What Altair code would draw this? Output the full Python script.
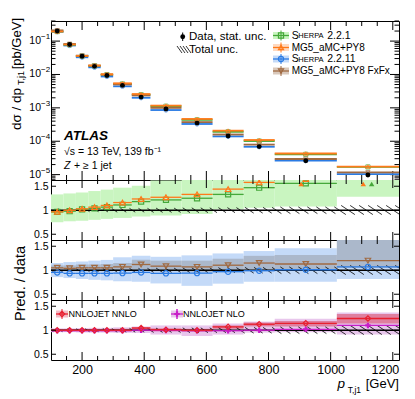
import math
import altair as alt
import pandas as pd

# ---------------- measured values ----------------
edges = [100, 140, 180, 220, 260, 300, 360, 420, 520, 620, 720, 820, 1020, 1220]
data_xsec = [0.20, 0.079, 0.035, 0.0175, 0.0093, 0.0047, 0.0021, 0.00092,
             0.00035, 1.44e-4, 6.9e-5, 2.6e-5, 9.7e-6]
tot_lo = [0.97, 0.97, 0.97, 0.97, 0.965, 0.96, 0.96, 0.955, 0.95, 0.95, 0.94, 0.93, 0.91]
tot_hi = [1.03, 1.03, 1.03, 1.03, 1.035, 1.04, 1.04, 1.045, 1.05, 1.055, 1.06, 1.07, 1.10]

sh221 = [0.965, 0.98, 1.02, 1.04, 1.065, 1.11, 1.18, 1.215, 1.25, 1.33, 1.47, 1.56, 1.75]
sh221_lo = [0.75, 0.77, 0.78, 0.80, 0.82, 0.84, 0.87, 0.89, 0.92, 1.02, 1.05, 1.08, 1.28]
sh221_hi = [1.33, 1.35, 1.37, 1.40, 1.43, 1.47, 1.51, 1.62, 1.65, 1.80, 1.90, 2.00, 2.20]
mg5 = [0.967, 1.0, 1.03, 1.065, 1.10, 1.16, 1.235, 1.27, 1.33, 1.44, 1.58, 1.65, 1.80]

sh2211 = [0.955, 0.935, 0.935, 0.935, 0.935, 0.94, 0.955, 0.935, 0.94, 0.97, 0.99, 1.01, 1.07]
sh2211_lo = [0.857, 0.837, 0.82, 0.80, 0.79, 0.77, 0.76, 0.725, 0.675, 0.72, 0.76, 0.76, 0.82]
sh2211_hi = [1.15, 1.17, 1.18, 1.20, 1.215, 1.27, 1.30, 1.28, 1.31, 1.35, 1.40, 1.46, 1.70]
fxfx = [1.05, 1.04, 1.05, 1.05, 1.05, 1.07, 1.12, 1.085, 1.07, 1.105, 1.15, 1.13, 1.20]
fxfx_lo = [0.98, 0.98, 0.98, 0.98, 0.98, 0.99, 1.0, 0.98, 0.97, 0.98, 1.0, 1.0, 1.05]
fxfx_hi = [1.10, 1.10, 1.12, 1.12, 1.13, 1.15, 1.22, 1.20, 1.20, 1.24, 1.30, 1.32, 1.70]

nnlo = [1.0, 1.0, 1.0, 1.0, 1.0, 1.0, 1.045, 1.01, 1.0, 1.07, 1.125, 1.145, 1.245]
nnlo_lo = [0.98, 0.98, 0.98, 0.98, 0.98, 0.98, 1.01, 0.98, 0.97, 1.03, 1.08, 1.08, 1.14]
nnlo_hi = [1.02, 1.02, 1.02, 1.025, 1.025, 1.03, 1.07, 1.04, 1.03, 1.10, 1.16, 1.19, 1.34]
nlo = [0.99, 0.99, 0.99, 0.99, 0.99, 0.99, 1.0, 0.995, 0.99, 0.99, 1.0, 1.02, 1.10]
nlo_lo = [0.96, 0.96, 0.955, 0.95, 0.95, 0.945, 0.94, 0.91, 0.88, 0.91, 0.95, 0.96, 0.91]
nlo_hi = [1.04, 1.04, 1.045, 1.05, 1.05, 1.06, 1.08, 1.10, 1.10, 1.14, 1.18, 1.24, 1.37]

x_major = [200, 400, 600, 800, 1000, 1200]
x_minor = [150, 250, 300, 350, 450, 500, 550, 650, 700, 750, 850, 900, 950,
           1050, 1100, 1150]
y_main_major = [1e-5, 1e-4, 1e-3, 1e-2, 1e-1]
y_main_exp = ["−5", "−4", "−3", "−2", "−1"]
r_major = [0.5, 1.0, 1.5]

# ---------------- style ----------------
FONT = "Liberation Sans"
W, HM, HR = 348, 159, 60
X_DOM = [100, 1220]
R_DOM = [0.38, 1.63]
GREEN, GREEN_B = "#45a83a", "#c9f5c0"
ORANGE, ORANGE_B = "#ff7a1a", "#ffd9bf"
BLUE, BLUE_B = "#2a7be4", "#c4daf8"
BROWN, GRAY_B = "#a06a42", "#8f8f95"
RED, RED_B = "#e8202f", "#d9506c"
MAG, MAG_B = "#c81ec8", "#e8c6ec"

xsc = alt.Scale(domain=X_DOM, nice=False, zero=False)
rsc = alt.Scale(domain=R_DOM, nice=False, zero=False)
msc = alt.Scale(type="log", domain=[6.9e-6, 0.4], nice=False)

bins = pd.DataFrame({"lo": edges[:-1], "hi": edges[1:]})
bins["c"] = (bins["lo"] + bins["hi"]) / 2


def T(txt, x, y, size, align="left", baseline="middle", angle=0, style="normal",
      weight="normal", color="black"):
    return alt.Chart(pd.DataFrame({"t": [txt]})).mark_text(
        align=align, baseline=baseline, angle=angle, font=FONT, fontSize=size,
        fontStyle=style, fontWeight=weight, color=color
    ).encode(text="t:N", x=alt.value(x), y=alt.value(y))


def R(x1, x2, y1, y2, color="black", width=1.0):
    return alt.Chart(pd.DataFrame({"a": [0]})).mark_rule(color=color, strokeWidth=width).encode(
        x=alt.value(x1), x2=alt.value(x2), y=alt.value(y1), y2=alt.value(y2))


def BOX(x1, x2, y1, y2, color, opacity=1.0):
    return alt.Chart(pd.DataFrame({"a": [0]})).mark_rect(color=color, opacity=opacity).encode(
        x=alt.value(x1), x2=alt.value(x2), y=alt.value(y1), y2=alt.value(y2))


def PT(x, y, shape, color, filled=False, size=30):
    return alt.Chart(pd.DataFrame({"a": [0]})).mark_point(
        shape=shape, color=color, filled=filled, size=size, strokeWidth=1.2, opacity=1
    ).encode(x=alt.value(x), y=alt.value(y))


def ticks(ysc, H, ymaj, ymin, lxM, lxm, lyM, lym, xax=None, yax=None):
    out = []
    for vals, L in ((x_major, lxM), (x_minor, lxm)):
        d = pd.DataFrame({"v": vals})
        for y1, y2 in ((0, L), (H, H - L)):
            out.append(alt.Chart(d).mark_rule(color="black", strokeWidth=1).encode(
                x=alt.X("v:Q", scale=xsc, axis=xax), y=alt.value(y1), y2=alt.value(y2)))
    for vals, L in ((ymaj, lyM), (ymin, lym)):
        if not vals:
            continue
        d = pd.DataFrame({"v": vals})
        for x1, x2 in ((0, L), (W, W - L)):
            out.append(alt.Chart(d).mark_rule(color="black", strokeWidth=1).encode(
                y=alt.Y("v:Q", scale=ysc, axis=yax), x=alt.value(x1), x2=alt.value(x2)))
    return out


def hatch_df(lo_list, hi_list, H=HR, spacing=9.0, k=1.5):
    xpx = W / (X_DOM[1] - X_DOM[0])
    ypx = H / (R_DOM[1] - R_DOM[0])
    rows = []
    for i in range(len(lo_list)):
        ua = (edges[i] - X_DOM[0]) * xpx
        ub = (edges[i + 1] - X_DOM[0]) * xpx
        wl = (lo_list[i] - R_DOM[0]) * ypx
        wh = (hi_list[i] - R_DOM[0]) * ypx
        n0 = math.ceil((ua + k * wl) / spacing)
        n1 = math.floor((ub + k * wh) / spacing)
        for n in range(n0, n1 + 1):
            c = n * spacing
            u1, w1 = c - k * wh, wh
            if u1 < ua:
                u1, w1 = ua, (c - ua) / k
            u2, w2 = c - k * wl, wl
            if u2 > ub:
                u2, w2 = ub, (c - ub) / k
            if u2 - u1 < 0.6:
                continue
            rows.append({"x": X_DOM[0] + u1 / xpx, "y": R_DOM[0] + w1 / ypx,
                         "x2": X_DOM[0] + u2 / xpx, "y2": R_DOM[0] + w2 / ypx})
    return pd.DataFrame(rows)


HATCH = hatch_df(tot_lo, tot_hi)

# ---------------- main panel ----------------
main_layers = []
main_layers += ticks(msc, HM, y_main_major,
                     [m * 10.0 ** e for e in range(-6, 0) for m in range(2, 10)
                      if 6.9e-6 <= m * 10.0 ** e <= 0.4],
                     9, 5, 9, 4.5)

main_series = [
    (sh2211, BLUE, "circle"),
    (sh221, GREEN, "square"),
    (fxfx, BROWN, "triangle-down"),
    (mg5, ORANGE, "triangle-up"),
]
for ratio, col, shp in main_series:
    d = bins.copy()
    d["v"] = [a * b for a, b in zip(data_xsec, ratio)]
    main_layers.append(alt.Chart(d).mark_rule(color=col, strokeWidth=1.8).encode(
        x=alt.X("lo:Q", scale=xsc, axis=None), x2="hi:Q",
        y=alt.Y("v:Q", scale=msc, axis=None)))
    main_layers.append(alt.Chart(d).mark_point(shape=shp, color=col, filled=False,
                                               size=18, strokeWidth=1).encode(
        x=alt.X("c:Q", scale=xsc, axis=None), y=alt.Y("v:Q", scale=msc, axis=None)))

dd = bins.copy()
dd["v"] = data_xsec
main_layers.append(alt.Chart(dd).mark_point(shape="circle", color="black", filled=True,
                                            size=24, opacity=1).encode(
    x=alt.X("c:Q", scale=xsc, axis=None), y=alt.Y("v:Q", scale=msc, axis=None)))

# y tick labels 10^n
dlab = pd.DataFrame({"v": y_main_major, "e": y_main_exp, "b": ["10"] * 5})
main_layers.append(alt.Chart(dlab).mark_text(align="right", baseline="middle", font=FONT,
                                             fontSize=10.5, dy=0).encode(
    y=alt.Y("v:Q", scale=msc, axis=None), x=alt.value(-10), text="b:N"))
main_layers.append(alt.Chart(dlab).mark_text(align="left", baseline="middle", font=FONT,
                                             fontSize=8, dy=-4).encode(
    y=alt.Y("v:Q", scale=msc, axis=None), x=alt.value(-10), text="e:N"))

# y title
main_layers += [
    T("[pb/GeV]", -34, -3, 13, align="right", angle=270),
    T("T,j1", -30, 50, 9, align="right", angle=270),
    T("dσ / dp", -34, 67, 13.5, align="right", angle=270),
]

# ATLAS label
main_layers += [
    T("ATLAS", 13, 115, 13.5, style="italic", weight="bold"),
    T("√s = 13 TeV, 139 fb⁻¹", 13, 130.5, 10.5),
    T("Z", 13, 145, 10.5, style="italic"),
    T("+ ≥ 1 jet", 23, 145, 10.5),
]

# left legend
main_layers += [
    R(131.7, 131.7, 11.5, 20),
    PT(131.7, 15.7, "circle", "black", filled=True, size=24),
    T("Data, stat. unc.", 138, 15.7, 11.5),
]
for i in range(4):
    main_layers.append(R(126 + 3 * i, 131 + 3 * i, 25, 32, width=0.8))
main_layers.append(T("Total unc.", 138, 28.5, 11.5))

# right legend
leg = [
    (14.5, GREEN, GREEN_B, "square", [("S", 10.5, 0), ("HERPA", 7.5, 6.6), ("2.2.1", 10.5, 35.5)]),
    (26.5, ORANGE, ORANGE_B, "triangle-up", [("MG5_aMC+PY8", 10, 0)]),
    (38.0, BLUE, BLUE_B, "circle", [("S", 10.5, 0), ("HERPA", 7.5, 6.6), ("2.2.11", 10.5, 35.5)]),
    (50.0, BROWN, "#d9c8bb", "triangle-down", [("MG5_aMC+PY8 FxFx", 10, 0)]),
]
for y, col, bcol, shp, parts in leg:
    main_layers += [BOX(222, 238, y - 3.5, y + 3.5, bcol),
                    R(222, 238, y, y, color=col, width=1.3),
                    R(230, 230, y - 5, y + 5, color=col, width=1),
                    PT(230, y, shp, col, size=26)]
    for txt, fs, dx in parts:
        main_layers.append(T(txt, 240.7 + dx, y + (0.8 if fs < 9 else 0), fs))

main = alt.layer(*main_layers).properties(width=W, height=HM)


# ---------------- ratio panels ----------------
def ratio_panel(bands, series, extra, bottom=False):
    layers = []
    yax = alt.Axis(values=r_major, format=".1~f", ticks=False, tickSize=0, domain=False,
                   grid=False, labelFontSize=10.5, labelPadding=3, title=None, labelFont=FONT)
    xax = None
    if bottom:
        xax = alt.Axis(values=x_major, format="d", ticks=False, tickSize=0, domain=False,
                       grid=False, labelFontSize=12.5, labelPadding=3, title=None,
                       labelFont=FONT, labelFlush=8, labelFlushOffset=6)
    for lo, hi, col, op in bands:
        d = bins.copy()
        d["blo"] = lo
        d["bhi"] = hi
        layers.append(alt.Chart(d).mark_rect(color=col, opacity=op, clip=True).encode(
            x=alt.X("lo:Q", scale=xsc, axis=xax), x2="hi:Q",
            y=alt.Y("blo:Q", scale=rsc, axis=yax), y2="bhi:Q"))
    layers.append(alt.Chart(HATCH).mark_rule(color="black", strokeWidth=0.8).encode(
        x=alt.X("x:Q", scale=xsc, axis=xax), x2="x2:Q",
        y=alt.Y("y:Q", scale=rsc, axis=yax), y2="y2:Q"))
    layers.append(alt.Chart(pd.DataFrame({"v": [1.0]})).mark_rule(
        color="black", strokeWidth=1.5).encode(y=alt.Y("v:Q", scale=rsc, axis=yax)))
    for vals, col, shp, filled, size, off in series:
        d = bins.copy()
        d["v"] = vals
        layers.append(alt.Chart(d).mark_rule(color=col, strokeWidth=1.3, clip=True).encode(
            x=alt.X("lo:Q", scale=xsc, axis=xax), x2="hi:Q",
            y=alt.Y("v:Q", scale=rsc, axis=yax)))
        layers.append(alt.Chart(d).mark_point(shape=shp, color=col, filled=filled, size=size,
                                              strokeWidth=1.2, opacity=1, clip=True).encode(
            x=alt.X("c:Q", scale=xsc, axis=xax), y=alt.Y("v:Q", scale=rsc, axis=yax)))
        if off is not None:
            layers.append(alt.Chart(d).transform_filter(
                alt.datum.v > R_DOM[1]).transform_calculate(
                xa=f"datum.c + ({off})").mark_point(
                shape="triangle-up", color=col, filled=True, size=30, opacity=1).encode(
                x=alt.X("xa:Q", scale=xsc, axis=xax), y=alt.value(4)))
    layers += ticks(rsc, HR, r_major, [], 8, 4, 5, 3, xax=xax, yax=yax)
    layers += extra
    return alt.layer(*layers).properties(width=W, height=HR)


p1 = ratio_panel(
    [(sh221_lo, sh221_hi, GREEN_B, 1.0)],
    [(sh221, GREEN, "square", False, 26, 12), (mg5, ORANGE, "triangle-up", False, 30, -15)],
    [])

p2 = ratio_panel(
    [(sh2211_lo, sh2211_hi, BLUE_B, 1.0), (fxfx_lo, fxfx_hi, GRAY_B, 0.45)],
    [(fxfx, BROWN, "triangle-down", False, 30, None), (sh2211, BLUE, "circle", False, 28, None)],
    [T("Pred. / data", -30, 6, 14.5, align="right", angle=270)])

leg3 = [
    BOX(5, 17, 10.5, 17.5, "#f3b8c4"),
    R(5, 17, 14, 14, color=RED, width=1.3),
    R(11, 11, 9, 19, color=RED, width=1),
    PT(11, 14, "diamond", RED, size=30),
    T("NNLOJET NNLO", 17.5, 14, 9),
    BOX(120, 132, 10.5, 17.5, MAG_B),
    R(120, 132, 14, 14, color=MAG, width=1.3),
    R(126, 126, 9, 19, color=MAG, width=1.5),
    PT(126, 14, "cross", MAG, filled=True, size=30),
    T("NNLOJET NLO", 132, 14, 9),
    T("[GeV]", 348, 84, 13, align="right"),
    T("T,j1", 310, 89.5, 8.5, align="right"),
    T("p", 294, 84, 13.5, align="right", style="italic"),
]
p3 = ratio_panel(
    [(nlo_lo, nlo_hi, MAG_B, 1.0), (nnlo_lo, nnlo_hi, RED_B, 0.6)],
    [(nlo, MAG, "cross", True, 30, None), (nnlo, RED, "diamond", False, 30, None)],
    leg3, bottom=True)

chart = alt.vconcat(main, p1, p2, p3, spacing=0, bounds="flush").properties(
    padding={"left": 1, "top": 9, "right": 2, "bottom": 2}
).configure_view(stroke="black", strokeWidth=1).configure_axis(
    labelFont=FONT, labelColor="black")

chart.save("out.html", embed_options={"renderer": "svg", "actions": False})
